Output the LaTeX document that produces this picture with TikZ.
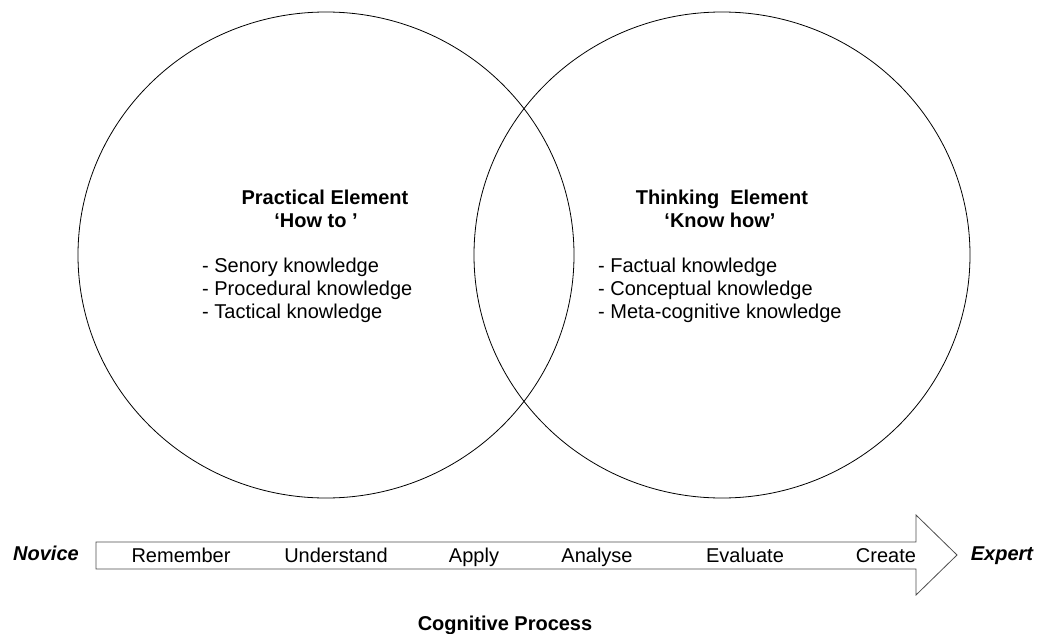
\documentclass[tikz,border=0pt]{standalone}
\usepackage{fontspec}
\setmainfont{Liberation Sans}
\tikzset{
  % Shared values that are assigned to different keys in the styles below.
  globals/line width/.initial=0.8pt,
%
  % For the two big circles.
  ring/.style={
    line width=\pgfkeysvalueof{/tikz/globals/line width},
    draw=black},
%
  % For the outline of the process arrow.
  process arrow/.style={
    line width=\pgfkeysvalueof{/tikz/globals/line width},
    draw=black!70,
    line join=miter},
%
  % For the headings inside the circles.
  heading/.style={
    font=\bfseries\fontsize{20}{23}\selectfont,
    anchor=base,
    inner sep=0pt},
%
  % For the lists of knowledge kinds.
  item/.style={
    font=\fontsize{20}{23}\selectfont,
    anchor=base west,
    inner sep=0pt},
%
  % For the steps written in the arrow.
  stage/.style={
    font=\fontsize{20}{23}\selectfont,
    anchor=base,
    inner sep=0pt},
%
  % For the two ends of the scale.
  end label/.style={
    font=\bfseries\itshape\fontsize{20}{23}\selectfont,
    anchor=base,
    inner sep=0pt}
}

\begin{document}
\begin{tikzpicture}[x=1pt,y=-1pt]
  \useasboundingbox (0,0) rectangle (1045,634);

  % The two circles.
  \draw[ring] (326,255) ellipse [x radius=248pt, y radius=243pt];
  \draw[ring] (722,255) ellipse [x radius=248pt, y radius=243pt];

  % Left circle.
  \node[heading] (practical) at (325,204) {Practical Element};
  \node[heading] (howto) at (316,227) {‘How to ’};
  \foreach \txt [count=\i] in {Senory knowledge, Procedural knowledge, Tactical knowledge}
    \node[item] (practical-\i) at (202,{249+23*\i}) {- \txt};

  % Right circle.
  \node[heading] (thinking) at (722,204) {Thinking\ \ Element};
  \node[heading] (knowhow) at (720,227) {‘Know how’};
  \foreach \txt [count=\i] in {Factual knowledge, Conceptual knowledge, Meta-cognitive knowledge}
    \node[item] (thinking-\i) at (598,{249+23*\i}) {- \txt};

  % The arrow of the cognitive process.
  \draw[process arrow] (96,542) -- (916,542) -- (916,515) -- (957,555)
    -- (916,595) -- (916,569) -- (96,569) -- cycle;
  \foreach \x/\txt in {181/Remember, 336/Understand, 474/Apply,
                       597/Analyse, 745/Evaluate, 886/Create}
    \node[stage] (stage-\txt) at (\x,562) {\txt};

  \node[end label] (novice) at (46,560) {Novice};
  \node[end label] (expert) at (1002,560) {Expert};
  \node[heading] (process) at (505,630) {Cognitive Process};
\end{tikzpicture}
\end{document}
